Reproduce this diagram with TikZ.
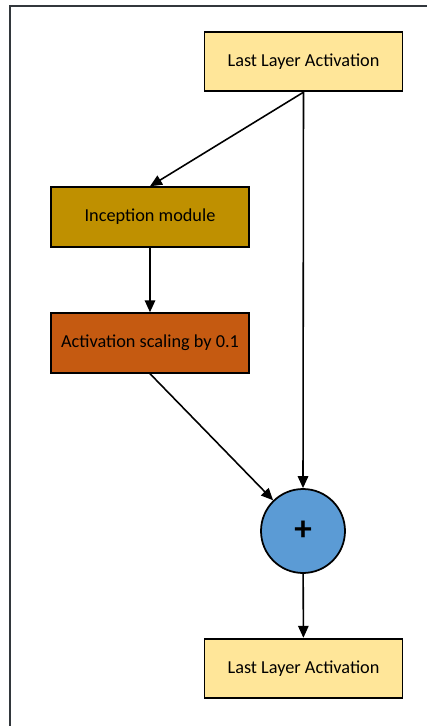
\documentclass[tikz,border=0pt]{standalone}
\usepackage{fontspec}
\setmainfont{Carlito}
\usetikzlibrary{arrows.meta}
\definecolor{layeryellow}{RGB}{255,230,153}
\definecolor{inceptgold}{RGB}{191,144,0}
\definecolor{scaleorange}{RGB}{197,90,17}
\definecolor{sumblue}{RGB}{91,155,213}
\definecolor{framegray}{RGB}{50,55,60}

\begin{document}
\begin{tikzpicture}[
    x=0.02cm, y=-0.02cm,
    block/.style={draw, line width=1.1pt, rectangle, minimum height=1.19cm, minimum width=3.96cm, align=center, font=\fontsize{10.4}{12}\selectfont},
    sumnode/.style={draw, line width=1pt, circle, fill=sumblue, minimum size=1.68cm, inner sep=0pt, font=\fontsize{20}{22}\selectfont\bfseries},
    arrow/.style={-{Triangle[length=2.4mm, width=2.1mm]}, line width=0.9pt}
]
\useasboundingbox (0,0) rectangle (427,726);

% Frame
\draw[framegray, line width=1.1pt] (10,726) -- (10,6) -- (427,6);

% Input activation
\node[block, fill=layeryellow] (lastin) at (303.5,61.5) {Last Layer Activation};

% Inception branch
\node[block, fill=inceptgold] (incept) at (150,217) {Inception module};
\node[block, fill=scaleorange] (scaling) at (150,343) {Activation scaling by 0.1};

% Sum
\node[sumnode] (plus) at (303,531) {+};

% Output activation
\node[block, fill=layeryellow] (lastout) at (303.5,668.5) {Last Layer Activation};

% Arrows
\draw[arrow] (lastin.south) -- (incept.north);
\draw[arrow] (lastin.south) -- (plus.north);
\draw[arrow] (incept) -- (scaling);
\draw[arrow] (scaling.south) -- (plus);
\draw[arrow] (plus) -- (lastout);

\end{tikzpicture}
\end{document}
